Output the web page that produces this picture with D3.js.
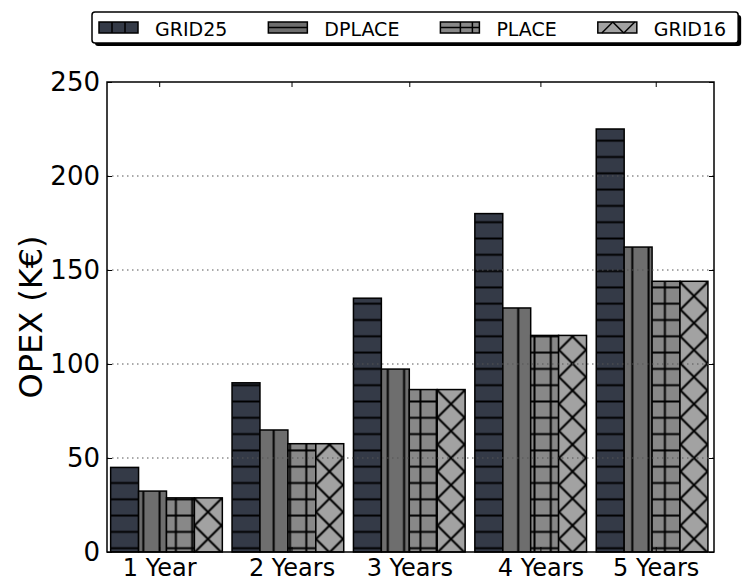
<!DOCTYPE html>
<html>
<head>
<meta charset="utf-8">
<title>OPEX</title>
<style>
body { margin: 0; background: #fff; }
text { font-family: "DejaVu Sans", sans-serif; fill: #000; }
</style>
</head>
<body>
<script src="https://cdn.jsdelivr.net/npm/d3@7"></script>
<script>

// data
var categories = ["1 Year", "2 Years", "3 Years", "4 Years", "5 Years"];
var seriesNames = ["GRID25", "DPLACE", "PLACE", "GRID16"];
var grid25 = [45, 90, 135, 180, 225];
var dplace = [32.4, 64.9, 97.3, 129.8, 162.2];
var place = [28.8, 57.6, 86.4, 115.2, 144];
var grid16 = [28.8, 57.6, 86.4, 115.2, 144];
var yTicks = [0, 50, 100, 150, 200, 250];
var xTickPos = [0.43, 1.52, 2.49, 3.57, 4.52];

var series = [grid25, dplace, place, grid16];
var colors = ["#343a47", "#6e6e6e", "#888888", "#a2a2a2"];

var width = 747, height = 587;
var margin = {left: 107, right: 33, top: 82, bottom: 35};

var svg = d3.select("body").append("svg")
    .attr("width", width)
    .attr("height", height);

var x = d3.scaleLinear().domain([0, 5]).range([margin.left, width - margin.right]);
var y = d3.scaleLinear().domain([0, 250]).range([height - margin.bottom, margin.top]);

var barW = 0.23, groupOff = 0.03;

// hatch patterns (in page space, like matplotlib)
var defs = svg.append("defs");

function makePattern(id, color, w, h, px, py, lines) {
  var p = defs.append("pattern")
      .attr("id", id)
      .attr("patternUnits", "userSpaceOnUse")
      .attr("width", w).attr("height", h)
      .attr("x", px).attr("y", py);
  p.append("rect").attr("width", w).attr("height", h).attr("fill", color);
  lines.forEach(function(l) {
    p.append("line")
        .attr("x1", l[0]).attr("y1", l[1]).attr("x2", l[2]).attr("y2", l[3])
        .attr("stroke", "#000").attr("stroke-width", 2);
  });
}

var hs = 16.3;
makePattern("hatch0", colors[0], 40, hs, 0, 140.7 - hs / 2, [[0, hs / 2, 40, hs / 2]]);
makePattern("hatch1", colors[1], hs, 40, 143.3 - hs / 2, 0, [[hs / 2, 0, hs / 2, 40]]);
makePattern("hatch2", colors[2], hs, hs, 143.3 - hs / 2, 140.7 - hs / 2,
  [[0, hs / 2, hs, hs / 2], [hs / 2, 0, hs / 2, hs]]);
var xs = 27;
makePattern("hatch3", colors[3], xs, xs, 208 - xs / 2, 458 - xs / 2,
  [[-2, -2, xs + 2, xs + 2], [-2, xs + 2, xs + 2, -2]]);

// bars
var bars = svg.append("g");
series.forEach(function(vals, k) {
  bars.selectAll(".s" + k)
      .data(vals)
      .enter().append("rect")
      .attr("class", "s" + k)
      .attr("x", function(d, i) { return x(i + groupOff + k * barW); })
      .attr("width", x(barW) - x(0))
      .attr("y", function(d) { return y(d); })
      .attr("height", function(d) { return y(0) - y(d); })
      .attr("fill", "url(#hatch" + k + ")")
      .attr("stroke", "#000")
      .attr("stroke-width", 1.5);
});

// dotted grid
svg.append("g").selectAll("line")
    .data(yTicks.filter(function(d) { return d > 0 && d < 250; }))
    .enter().append("line")
    .attr("x1", x(0)).attr("x2", x(5))
    .attr("y1", function(d) { return y(d); })
    .attr("y2", function(d) { return y(d); })
    .attr("stroke", "#555")
    .attr("stroke-width", 1)
    .attr("stroke-dasharray", "1.5,3.5");

// axes, ticks inside
var yAxis = svg.append("g")
    .attr("transform", "translate(" + x(0) + ",0)")
    .call(d3.axisLeft(y).tickValues(yTicks).tickSize(-5).tickPadding(7));
yAxis.selectAll("text").style("font-size", "26px");

svg.append("g")
    .attr("transform", "translate(" + x(5) + ",0)")
    .call(d3.axisRight(y).tickValues(yTicks).tickSize(-5).tickFormat(""));

svg.append("g")
    .attr("transform", "translate(0," + y(250) + ")")
    .call(d3.axisTop(x).tickValues(xTickPos).tickSize(-5).tickFormat(""));

var xAxis = svg.append("g")
    .attr("transform", "translate(0," + y(0) + ")")
    .call(d3.axisBottom(x).tickValues(xTickPos).tickSize(-5).tickPadding(7)
      .tickFormat(function(d, i) { return categories[i]; }));
xAxis.selectAll("text").style("font-size", "24px");

svg.selectAll(".domain").remove();
svg.selectAll(".tick line").attr("stroke", "#000").attr("stroke-width", 1);
svg.selectAll(".tick text").style("font-family", "DejaVu Sans");

// frame
svg.append("rect")
    .attr("x", x(0)).attr("y", y(250))
    .attr("width", x(5) - x(0)).attr("height", y(0) - y(250))
    .attr("fill", "none")
    .attr("stroke", "#000")
    .attr("stroke-width", 1.5);

// y label
svg.append("text")
    .attr("transform", "translate(42," + ((y(0) + y(250)) / 2) + ") rotate(-90)")
    .attr("text-anchor", "middle")
    .style("font-size", "32px")
    .text("OPEX (K\u20ac)");

// legend, columns sized by their text like matplotlib
var leg = svg.append("g");
var shadow = leg.append("rect").attr("rx", 3).attr("fill", "#000");
var box = leg.append("rect").attr("rx", 3).attr("fill", "#fff")
    .attr("stroke", "#000").attr("stroke-width", 1.5);

var pw = 39, ph = 11, py = 22;
var gx = 99;
seriesNames.forEach(function(name, k) {
  var g = leg.append("g").attr("transform", "translate(" + gx + "," + py + ")");
  g.append("rect").attr("width", pw).attr("height", ph).attr("fill", colors[k]);
  var ls = [];
  if (k === 0) ls = [[13, 0, 13, ph], [26, 0, 26, ph]];
  if (k === 1) ls = [[0, ph / 2, pw, ph / 2]];
  if (k === 2) ls = [[0, ph / 2, pw, ph / 2], [20, 0, 20, ph], [32, 0, 32, ph]];
  if (k === 3) ls = [[4, ph, 15, 0], [15, 0, 26, ph], [26, ph, 37, 0]];
  ls.forEach(function(l) {
    g.append("line")
        .attr("x1", l[0]).attr("y1", l[1]).attr("x2", l[2]).attr("y2", l[3])
        .attr("stroke", "#000").attr("stroke-width", 1.5);
  });
  g.append("rect").attr("width", pw).attr("height", ph)
      .attr("fill", "none").attr("stroke", "#000").attr("stroke-width", 1.5);
  var t = g.append("text")
      .attr("x", 56).attr("y", 14)
      .style("font-size", "19px")
      .text(name);
  var tw = t.node().getComputedTextLength();
  gx = gx + 56 + tw + (k < seriesNames.length - 1 ? 41 : 0);
});

var bx = 92, by = 12, bw = gx + 12 - bx, bh = 31;
shadow.attr("x", bx + 3).attr("y", by + 3).attr("width", bw).attr("height", bh);
box.attr("x", bx).attr("y", by).attr("width", bw).attr("height", bh);

</script>
</body>
</html>
